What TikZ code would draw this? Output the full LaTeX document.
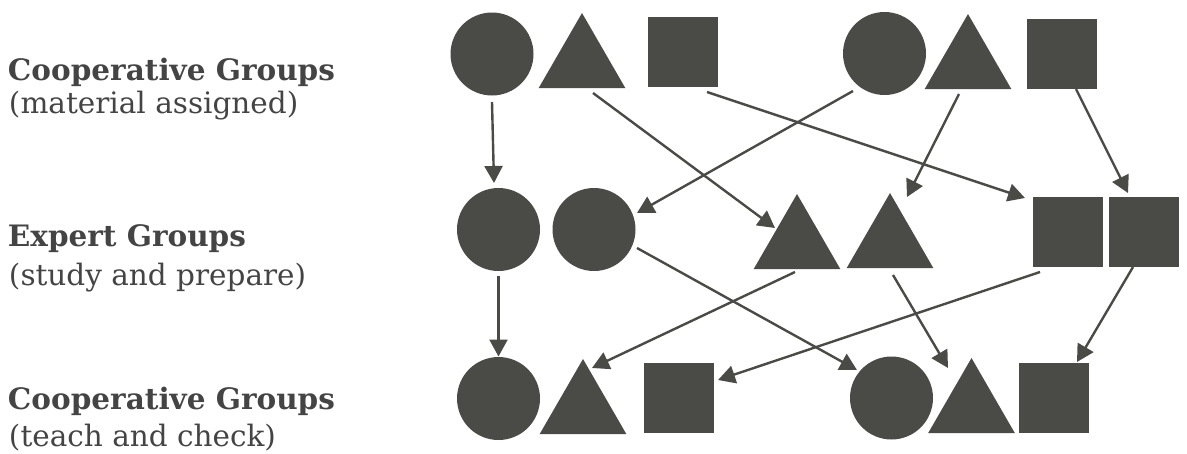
\documentclass[tikz,border=0pt]{standalone}
\usepackage{fontspec}
\setmainfont{DejaVu Serif}
\usetikzlibrary{calc}
\usetikzlibrary{arrows.meta}
\usetikzlibrary{shapes.geometric}
\definecolor{shade}{RGB}{74,74,70}
\definecolor{ink}{RGB}{68,68,68}

\begin{document}
\begin{tikzpicture}[x=1pt, y=-1pt, every node/.style={inner sep=0pt, outer sep=0pt},
    circ/.style={circle, fill=shade, minimum size=83pt},
    tri/.style={regular polygon, regular polygon sides=3, fill=shade, minimum size=100pt},
    sq/.style={rectangle, fill=shade, minimum size=70pt},
    arr/.style={-{Triangle[length=17pt,width=18pt]}, draw=shade, line width=2.4pt},
    title/.style={anchor=base west, font=\fontsize{29.5}{34}\selectfont\bfseries, text=ink},
    sub/.style={anchor=base west, font=\fontsize{29.5}{34}\selectfont, text=ink}]
    \useasboundingbox (0,0) rectangle (1187,453);

    \foreach \n/\y/\t in {ca/80/Cooperative Groups, ex/246/Expert Groups, cb/409/Cooperative Groups} {
        \node[title] (\n) at (8,\y) {\t};
    }
    \foreach \n/\y/\t in {ma/113/{(material assigned)}, sp/285/{(study and prepare)}, tc/446/{(teach and check)}} {
        \node[sub] (\n) at (9,\y) {\t};
    }

    \foreach \n/\x/\y in {c1/492/54, c2/884.5/53.5, m1/498.5/229.5, m2/594/229.5, b1/498.5/398.5, b4/891.5/398} {
        \node[circ] (\n) at (\x,\y) {};
    }
    \foreach \n/\x/\y in {t1/582/63, t2/968/64, m3/797/244, m4/890/243, b2/583/409, b5/971.5/408} {
        \node[tri] (\n) at (\x,\y) {};
    }
    \foreach \n/\x/\y in {s1/683/51.5, s2/1061.5/54, m5/1067.5/232, m6/1143.5/232, b3/679/398, b6/1054/398} {
        \node[sq] (\n) at (\x,\y) {};
    }

    \foreach \a/\ax/\ay/\b/\bx/\by in {c1/0/48/m1/-4.5/-46.5, t1/11/30/m3/-22/-16, s1/24/40.5/m5/-42.5/-34,
        c2/-31.5/37.5/m2/43/-16.5, t2/-9/30/m4/17/-46, s2/14.5/35/m6/-15.5/-39,
        m1/0/46/b1/0/-42, m2/43/18.5/b4/-34.5/-28, m3/-2/28/b2/9/-41,
        m4/3/32/b5/-23.5/-40, m5/-27.5/40/b3/39/-18, m6/-10.5/35/b6/23/-36} {
        \draw[arr] ($(\a)+(\ax,\ay)$) -- ($(\b)+(\bx,\by)$);
    }
\end{tikzpicture}
\end{document}
